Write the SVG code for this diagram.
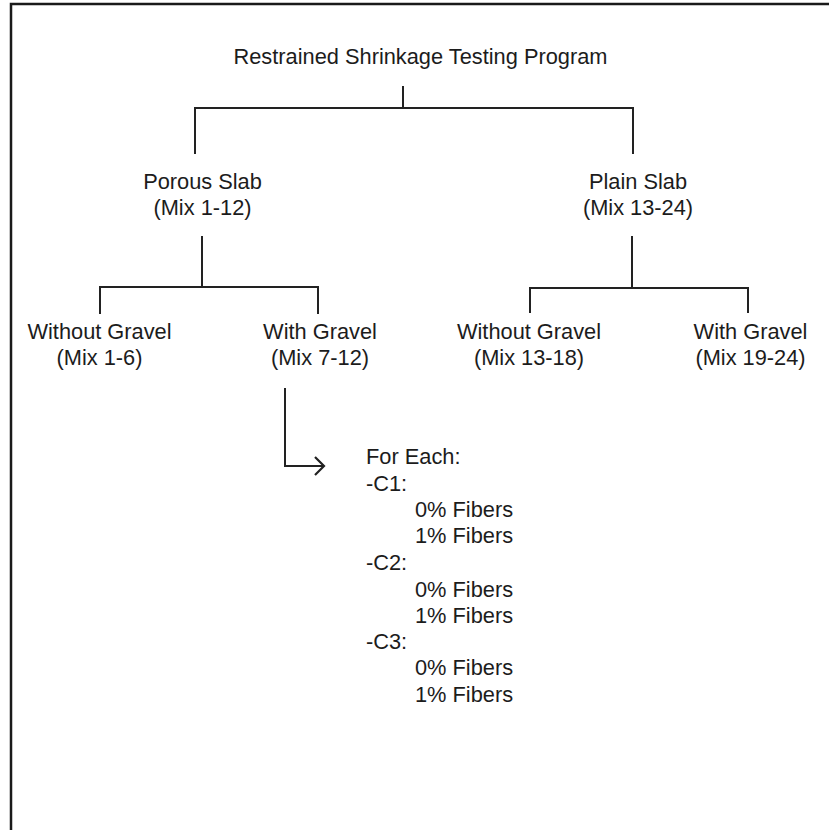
<svg xmlns="http://www.w3.org/2000/svg" width="829" height="830" viewBox="0 0 829 830">
<style>
  .t { font-family: "Liberation Sans", Arial, Helvetica, sans-serif; font-size: 21.8px; fill: #1c1c1c; }
  .c { text-anchor: middle; }
  .ln { fill: none; stroke: #222; stroke-width: 2; }
  .frame { fill: none; stroke: #1a1a1a; stroke-width: 2.5; }
</style>
<defs>
  <marker id="chev" markerWidth="14" markerHeight="22" refX="11" refY="11" orient="auto" markerUnits="userSpaceOnUse">
    <path d="M2,2 L11,11 L2,20" fill="none" stroke="#222" stroke-width="2.2"/>
  </marker>
</defs>
<rect x="0" y="0" width="829" height="830" fill="#fff"/>
<path class="frame" d="M11,830 V4 H829"/>

<g id="connectors">
  <path class="ln" d="M403,86 V108 M195,154 V108 H633 V154"/>
  <path class="ln" d="M202,236 V287 M100,314 V287 H318 V314"/>
  <path class="ln" d="M632,236 V288 M530,313 V288 H748 V313"/>
  <path class="ln" d="M285,388 V466 H324" marker-end="url(#chev)"/>
</g>

<g id="root">
  <text class="t c" x="420.5" y="64">Restrained Shrinkage Testing Program</text>
</g>
<g id="porous">
  <text class="t c" x="202.5" y="189">Porous Slab</text>
  <text class="t c" x="202.5" y="215">(Mix 1-12)</text>
</g>
<g id="plain">
  <text class="t c" x="638" y="189">Plain Slab</text>
  <text class="t c" x="638" y="215">(Mix 13-24)</text>
</g>
<g id="porous-without">
  <text class="t c" x="99.5" y="339">Without Gravel</text>
  <text class="t c" x="99.5" y="365">(Mix 1-6)</text>
</g>
<g id="porous-with">
  <text class="t c" x="320" y="339">With Gravel</text>
  <text class="t c" x="320" y="365">(Mix 7-12)</text>
</g>
<g id="plain-without">
  <text class="t c" x="529" y="339">Without Gravel</text>
  <text class="t c" x="529" y="365">(Mix 13-18)</text>
</g>
<g id="plain-with">
  <text class="t c" x="750.5" y="339">With Gravel</text>
  <text class="t c" x="750.5" y="365">(Mix 19-24)</text>
</g>
<g id="for-each">
  <text class="t" x="366" y="464">For Each:</text>
  <text class="t" x="366" y="491">-C1:</text>
  <text class="t" x="415" y="517">0% Fibers</text>
  <text class="t" x="415" y="543">1% Fibers</text>
  <text class="t" x="366" y="570">-C2:</text>
  <text class="t" x="415" y="597">0% Fibers</text>
  <text class="t" x="415" y="623">1% Fibers</text>
  <text class="t" x="366" y="649">-C3:</text>
  <text class="t" x="415" y="675">0% Fibers</text>
  <text class="t" x="415" y="702">1% Fibers</text>
</g>
</svg>
